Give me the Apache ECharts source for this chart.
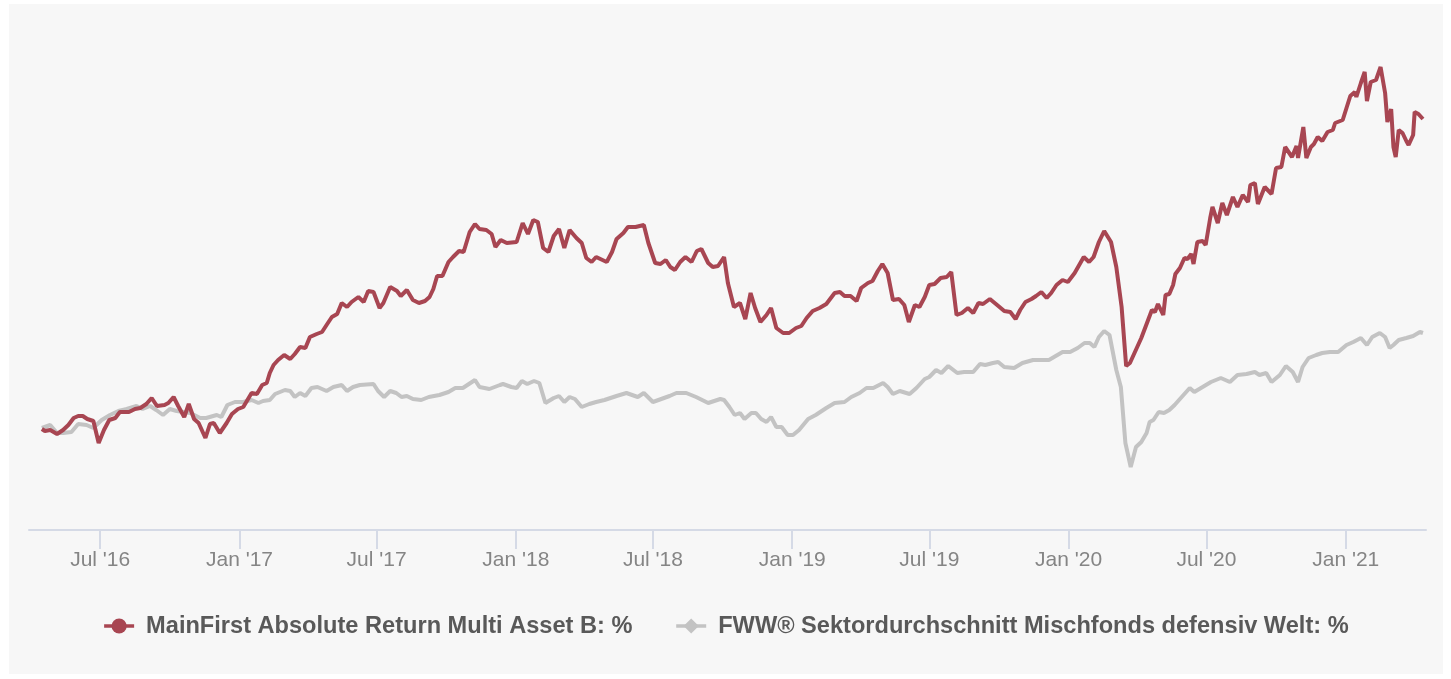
<!DOCTYPE html>
<html><head><meta charset="utf-8">
<script src="https://cdn.jsdelivr.net/npm/echarts@6/dist/echarts.min.js"></script>
<style>html,body{margin:0;padding:0;background:#fff}#c{width:1451px;height:679px}</style>
</head><body><div id="c"></div>
<script>
const redName = 'MainFirst Absolute Return Multi Asset B: %';
const grayName = 'FWW® Sektordurchschnitt Mischfonds defensiv Welt: %';

const redDates = ['2016-04-15','2016-04-19','2016-04-26','2016-05-05','2016-05-13','2016-05-20','2016-05-27','2016-06-02','2016-06-08','2016-06-14','2016-06-22','2016-06-29','2016-07-06','2016-07-13','2016-07-21','2016-07-27','2016-08-08','2016-08-16','2016-08-23','2016-08-31','2016-09-07','2016-09-14','2016-09-24','2016-09-29','2016-10-06','2016-10-12','2016-10-20','2016-10-26','2016-11-02','2016-11-08','2016-11-17','2016-11-23','2016-11-28','2016-12-06','2016-12-15','2016-12-22','2016-12-30','2017-01-06','2017-01-17','2017-01-24','2017-01-31','2017-02-06','2017-02-10','2017-02-15','2017-02-21','2017-03-01','2017-03-09','2017-03-15','2017-03-22','2017-03-29','2017-04-04','2017-04-13','2017-04-20','2017-04-26','2017-05-03','2017-05-10','2017-05-16','2017-05-23','2017-05-29','2017-06-07','2017-06-14','2017-06-20','2017-06-27','2017-07-05','2017-07-10','2017-07-19','2017-07-28','2017-08-02','2017-08-10','2017-08-18','2017-08-26','2017-09-03','2017-09-09','2017-09-14','2017-09-19','2017-09-26','2017-10-04','2017-10-10','2017-10-18','2017-10-24','2017-11-01','2017-11-08','2017-11-14','2017-11-23','2017-11-30','2017-12-05','2017-12-12','2017-12-20','2018-01-02','2018-01-10','2018-01-17','2018-01-24','2018-01-30','2018-02-06','2018-02-13','2018-02-20','2018-02-27','2018-03-06','2018-03-13','2018-03-22','2018-03-29','2018-04-04','2018-04-11','2018-04-17','2018-05-01','2018-05-08','2018-05-14','2018-05-23','2018-05-29','2018-06-08','2018-06-19','2018-06-25','2018-07-04','2018-07-11','2018-07-18','2018-07-24','2018-07-30','2018-08-06','2018-08-13','2018-08-21','2018-08-28','2018-09-03','2018-09-12','2018-09-18','2018-09-25','2018-10-03','2018-10-08','2018-10-16','2018-10-24','2018-10-31','2018-11-07','2018-11-13','2018-11-20','2018-11-28','2018-12-04','2018-12-11','2018-12-20','2018-12-28','2019-01-06','2019-01-13','2019-01-20','2019-01-28','2019-02-06','2019-02-15','2019-02-26','2019-03-05','2019-03-11','2019-03-19','2019-03-27','2019-04-02','2019-04-11','2019-04-17','2019-04-24','2019-04-30','2019-05-07','2019-05-14','2019-05-22','2019-05-29','2019-06-04','2019-06-12','2019-06-18','2019-06-25','2019-07-01','2019-07-08','2019-07-16','2019-07-24','2019-07-30','2019-08-06','2019-08-13','2019-08-21','2019-08-28','2019-09-04','2019-09-10','2019-09-19','2019-09-27','2019-10-08','2019-10-16','2019-10-23','2019-10-29','2019-11-05','2019-11-13','2019-11-19','2019-11-26','2019-12-03','2019-12-09','2019-12-16','2019-12-24','2019-12-31','2020-01-09','2020-01-21','2020-01-28','2020-02-03','2020-02-10','2020-02-17','2020-02-26','2020-03-04','2020-03-11','2020-03-17','2020-03-22','2020-03-28','2020-04-06','2020-04-15','2020-04-20','2020-04-24','2020-04-28','2020-05-05','2020-05-08','2020-05-13','2020-05-18','2020-05-21','2020-05-27','2020-06-02','2020-06-06','2020-06-11','2020-06-14','2020-06-19','2020-06-26','2020-06-30','2020-07-06','2020-07-09','2020-07-16','2020-07-22','2020-07-28','2020-08-05','2020-08-11','2020-08-18','2020-08-25','2020-08-28','2020-09-03','2020-09-07','2020-09-16','2020-09-25','2020-10-01','2020-10-08','2020-10-13','2020-10-22','2020-10-28','2020-10-30','2020-11-06','2020-11-10','2020-11-16','2020-11-20','2020-11-25','2020-12-01','2020-12-08','2020-12-15','2020-12-18','2020-12-28','2021-01-02','2021-01-07','2021-01-13','2021-01-15','2021-01-21','2021-01-26','2021-01-29','2021-02-03','2021-02-10','2021-02-16','2021-02-22','2021-02-25','2021-03-02','2021-03-05','2021-03-08','2021-03-12','2021-03-17','2021-03-22','2021-03-25','2021-03-31','2021-04-02','2021-04-07','2021-04-13'];
const redValues = [0.1,-0.1,0.0,-0.4,0.0,0.5,1.2,1.4,1.4,1.1,0.9,-1.3,0.0,1.0,1.2,1.8,1.8,2.1,2.2,2.6,3.2,2.4,2.5,2.7,3.3,2.4,1.3,2.6,1.1,0.7,-0.8,0.6,0.7,-0.3,0.7,1.6,2.1,2.3,3.7,3.6,4.5,4.7,5.7,6.5,7.0,7.5,7.1,7.6,8.3,8.2,9.3,9.6,9.8,10.5,11.3,11.6,12.7,12.3,12.8,13.3,12.8,13.9,13.8,12.2,12.7,14.3,13.9,13.4,14.0,13.0,12.7,12.9,13.3,14.1,15.4,15.4,16.8,17.3,17.9,17.8,19.8,20.6,20.1,20.0,19.6,18.3,19.0,18.7,18.8,20.7,19.6,21.0,20.8,18.2,17.8,19.4,20.1,18.2,20.0,19.2,18.7,17.2,16.8,17.3,16.8,17.8,19.1,19.7,20.3,20.3,20.5,18.7,16.7,16.6,17.0,16.3,16.0,16.8,17.3,16.8,17.9,18.1,16.7,16.3,16.4,17.3,14.7,12.3,12.7,11.1,13.7,12.2,10.8,11.5,12.2,10.2,9.7,9.7,10.2,10.4,11.2,11.9,12.2,12.6,13.7,13.8,13.4,13.4,12.9,14.2,14.7,14.9,15.9,16.6,15.7,13.0,13.1,12.5,10.8,12.5,12.3,13.3,14.5,14.6,15.2,15.3,15.8,11.5,11.7,12.2,11.7,12.7,12.6,13.1,12.6,11.9,11.8,11.1,12.0,12.8,13.1,13.4,13.8,13.2,13.7,14.5,15.0,14.8,15.7,17.3,16.8,17.3,18.8,19.9,18.8,16.3,12.3,6.4,6.7,7.7,9.2,11.0,12.0,11.8,12.6,11.5,13.5,13.6,14.5,15.6,16.2,17.2,17.1,17.6,16.6,18.8,18.9,18.5,21.2,22.3,20.7,22.7,21.5,23.3,22.3,23.5,22.8,24.5,24.7,22.6,24.3,23.6,26.2,26.3,28.3,27.3,28.4,27.2,30.3,27.2,28.3,28.6,29.3,28.9,29.8,30.0,30.7,31.0,32.2,33.4,33.8,33.3,34.7,35.8,32.9,34.8,35.0,36.3,33.7,30.8,32.1,28.3,27.3,30.0,29.7,28.9,28.5,29.5,31.8,31.6,31.1];

const grayDates = ['2016-04-15','2016-04-26','2016-05-05','2016-05-13','2016-05-24','2016-06-02','2016-06-13','2016-06-22','2016-07-03','2016-07-14','2016-07-25','2016-08-05','2016-08-18','2016-08-26','2016-09-05','2016-09-13','2016-09-22','2016-10-01','2016-10-10','2016-10-19','2016-10-28','2016-11-10','2016-11-18','2016-12-02','2016-12-08','2016-12-16','2016-12-26','2017-01-06','2017-01-17','2017-01-26','2017-02-01','2017-02-10','2017-02-17','2017-03-02','2017-03-09','2017-03-15','2017-03-22','2017-03-29','2017-04-06','2017-04-14','2017-04-26','2017-05-05','2017-05-16','2017-05-23','2017-05-31','2017-06-09','2017-06-27','2017-07-03','2017-07-11','2017-07-19','2017-07-27','2017-08-03','2017-08-10','2017-08-18','2017-08-29','2017-09-08','2017-09-22','2017-10-04','2017-10-13','2017-10-23','2017-11-08','2017-11-14','2017-11-27','2017-12-11','2017-12-15','2017-12-26','2018-01-02','2018-01-09','2018-01-16','2018-01-25','2018-02-01','2018-02-09','2018-02-20','2018-02-27','2018-03-06','2018-03-13','2018-03-20','2018-03-29','2018-04-08','2018-04-17','2018-04-28','2018-05-14','2018-05-27','2018-06-11','2018-06-19','2018-07-01','2018-07-12','2018-07-23','2018-08-01','2018-08-14','2018-08-27','2018-09-12','2018-09-28','2018-10-03','2018-10-10','2018-10-17','2018-10-24','2018-10-30','2018-11-08','2018-11-14','2018-11-21','2018-11-28','2018-12-04','2018-12-11','2018-12-18','2018-12-26','2019-01-02','2019-01-10','2019-01-22','2019-02-01','2019-02-15','2019-02-26','2019-03-11','2019-03-20','2019-03-31','2019-04-09','2019-04-18','2019-05-01','2019-05-07','2019-05-14','2019-05-23','2019-06-05','2019-06-14','2019-06-25','2019-07-01','2019-07-10','2019-07-17','2019-07-26','2019-08-07','2019-08-16','2019-08-28','2019-09-06','2019-09-13','2019-09-23','2019-09-30','2019-10-08','2019-10-21','2019-11-01','2019-11-15','2019-12-06','2019-12-24','2020-01-03','2020-01-13','2020-01-22','2020-01-29','2020-02-04','2020-02-10','2020-02-17','2020-02-24','2020-03-04','2020-03-10','2020-03-16','2020-03-23','2020-03-30','2020-04-06','2020-04-13','2020-04-17','2020-04-22','2020-04-29','2020-05-06','2020-05-13','2020-05-20','2020-05-27','2020-06-09','2020-06-15','2020-06-26','2020-07-07','2020-07-20','2020-08-01','2020-08-11','2020-08-23','2020-09-03','2020-09-09','2020-09-18','2020-09-25','2020-10-06','2020-10-14','2020-10-23','2020-10-30','2020-11-05','2020-11-13','2020-11-23','2020-12-01','2020-12-11','2020-12-22','2021-01-02','2021-01-11','2021-01-21','2021-01-29','2021-02-05','2021-02-15','2021-02-22','2021-02-28','2021-03-05','2021-03-12','2021-03-22','2021-03-31','2021-04-09','2021-04-13'];
const grayValues = [0.2,0.5,-0.3,-0.3,-0.2,0.6,0.5,0.2,1.0,1.5,1.9,2.1,2.4,2.1,2.4,2.0,1.5,2.1,1.9,1.8,1.7,1.2,1.2,1.5,1.3,2.5,2.8,2.8,3.0,2.7,2.9,3.0,3.6,4.0,3.9,3.3,3.7,3.4,4.2,4.3,3.9,4.3,4.5,3.9,4.3,4.5,4.6,3.9,3.3,3.9,3.7,3.3,3.4,3.1,3.0,3.3,3.5,3.8,4.2,4.2,5.0,4.3,4.1,4.5,4.6,4.3,4.2,4.9,4.6,4.9,4.7,2.7,3.2,3.4,2.8,3.3,3.1,2.3,2.6,2.8,3.0,3.4,3.7,3.3,3.7,2.8,3.1,3.4,3.7,3.7,3.3,2.7,3.1,3.0,2.3,1.5,1.7,1.1,1.7,1.7,1.1,0.8,1.3,0.3,0.3,-0.5,-0.5,0.0,1.1,1.5,2.2,2.7,2.8,3.3,3.7,4.2,4.2,4.7,4.3,3.6,3.9,3.6,4.2,5.1,5.3,6.0,5.7,6.4,5.7,5.8,5.8,6.6,6.5,6.7,6.8,6.3,6.2,6.7,7.0,7.0,7.8,7.8,8.2,8.7,8.7,8.3,9.3,9.9,9.5,6.0,4.3,-1.3,-3.7,-1.7,-1.2,-0.3,0.8,1.0,1.8,1.7,2.0,2.5,3.1,4.2,3.8,4.3,4.8,5.2,4.8,5.5,5.6,5.8,5.5,5.7,4.8,5.5,6.4,5.8,4.8,6.3,7.2,7.5,7.7,7.8,7.8,8.5,8.8,9.2,8.5,9.3,9.7,9.3,8.2,8.5,9.0,9.2,9.4,9.8,9.7];

const tickDates = ['2016-07-01','2017-01-01','2017-07-01','2018-01-01','2018-07-01','2019-01-01','2019-07-01','2020-01-01','2020-07-01','2021-01-01'];
const monthNames = ['Jan','Feb','Mar','Apr','May','Jun','Jul','Aug','Sep','Oct','Nov','Dec'];
const axisStart = '2016-03-29';
const axisEnd = '2021-04-17';

const toTime = s => +echarts.time.parse(s);
const chart = echarts.init(document.getElementById('c'), null, {renderer: 'canvas'});
const tickValues = tickDates.map(toTime);
const fontFamily = '"Liberation Sans", Arial, Helvetica, sans-serif';

chart.setOption({
  animation: false,
  graphic: [{
    type: 'rect', silent: true, z: -10,
    shape: {x: 9, y: 4, width: 1434, height: 670},
    style: {fill: '#f7f7f7'}
  }],
  grid: {left: 29, right: 25, top: 30, bottom: 149, containLabel: false},
  legend: {
    data: [redName, grayName],
    top: 609, left: 'center',
    itemWidth: 30, itemHeight: 19, itemGap: 42,
    lineStyle: {width: 3.5},
    textStyle: {fontSize: 23.6, fontWeight: 'bold', color: '#595959', fontFamily: fontFamily, padding: [0, 0, 0, 7]}
  },
  xAxis: {
    type: 'value',
    min: toTime(axisStart), max: toTime(axisEnd),
    axisLine: {show: true, onZero: false, lineStyle: {color: '#d5dae6', width: 2}},
    axisTick: {show: true, length: 19, customValues: tickValues, lineStyle: {color: '#d5dae6', width: 2}},
    axisLabel: {
      customValues: tickValues,
      color: '#858585', fontSize: 21, fontFamily: fontFamily, margin: 20,
      formatter: function (v) {
        const d = new Date(v);
        return monthNames[d.getMonth()] + " '" + String(d.getFullYear()).slice(2);
      }
    },
    splitLine: {show: false}
  },
  yAxis: {type: 'value', min: -10, max: 40, show: false, splitLine: {show: false}},
  series: [
    {
      name: redName, type: 'line', z: 3,
      data: redDates.map((d, i) => [toTime(d), redValues[i]]),
      showSymbol: false, symbol: 'circle', symbolSize: 15,
      lineStyle: {color: '#a84652', width: 4}, itemStyle: {color: '#a84652'}
    },
    {
      name: grayName, type: 'line', z: 2,
      data: grayDates.map((d, i) => [toTime(d), grayValues[i]]),
      showSymbol: false, symbol: 'diamond', symbolSize: 15,
      lineStyle: {color: '#c3c3c3', width: 4}, itemStyle: {color: '#c3c3c3'}
    }
  ]
});
</script>
</body></html>
